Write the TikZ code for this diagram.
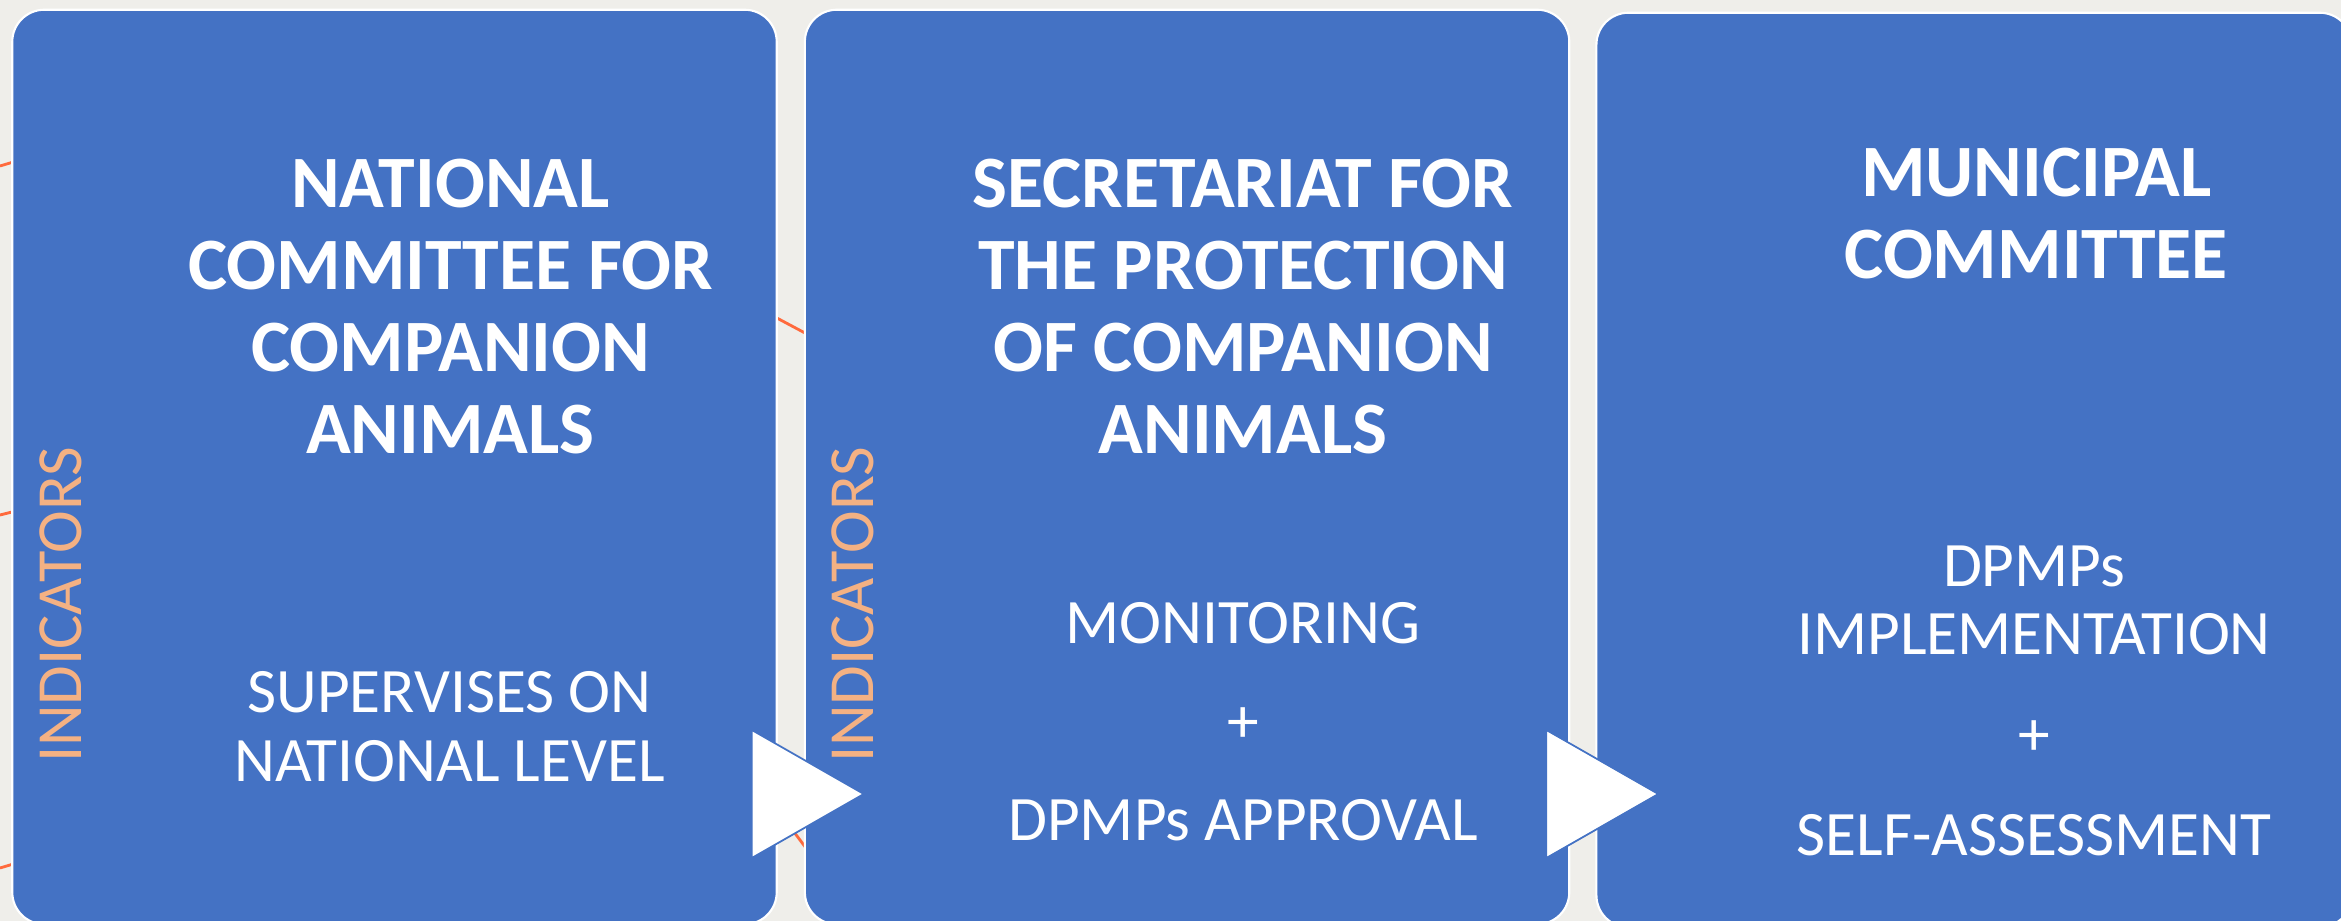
\documentclass[tikz,border=0pt]{standalone}
\usepackage{fontspec}
\setmainfont{Carlito}
\usetikzlibrary{positioning,calc}
\definecolor{boxblue}{HTML}{4472C4}
\definecolor{slidebg}{HTML}{EFEEEA}
\definecolor{indorange}{HTML}{F4B183}
\definecolor{lineorange}{HTML}{FF6A3D}
\begin{document}
\begin{tikzpicture}[x=0.01cm,y=-0.01cm,
	every node/.style={inner sep=0pt,text=white},
	panel/.style={draw=white,line width=0.6pt,fill=boxblue,rounded corners=3.2mm,
		minimum width=7.64cm,minimum height=9.14cm},
	head/.style={font=\fontsize{21}{23.3}\selectfont\bfseries,align=center,anchor=north},
	body/.style={font=\fontsize{18}{19.5}\selectfont,align=center,anchor=north},
	ind/.style={font=\fontsize{18.3}{20}\selectfont,text=indorange,rotate=90},
	tri/.style={draw=boxblue,line width=0.5pt,fill=white},
	deco/.style={lineorange,line width=0.8pt}]

	\fill[slidebg] (0,0) rectangle (2341,921);
	\useasboundingbox (0,0) rectangle (2341,921);

	\draw[deco] (0,166) -- (20,160);
	\draw[deco] (0,515) -- (20,510);
	\draw[deco] (0,868) -- (20,862);
	\draw[deco] (760,309) -- (820,341);
	\draw[deco] (785,820) -- (815,860);

	\node[panel] (natc) at (394.5,467) {};
	\node[panel,right=2.6mm of natc] (secr) {};
	\node[panel,right=2.5mm of secr,yshift=-0.3mm,minimum width=7.55cm] (muni) {};

	\node[head] (natc-h) at ($(natc.north)+(56,150)$) {NATIONAL\\COMMITTEE FOR\\COMPANION\\ANIMALS};
	\node[head] (secr-h) at ($(secr.north)+(56,150)$) {SECRETARIAT FOR\\THE PROTECTION\\OF COMPANION\\ANIMALS};
	\node[head] (muni-h) at ($(muni.north)+(62,136)$) {MUNICIPAL\\COMMITTEE};

	\node[body] (natc-b) at ($(natc.north)+(55,662)$) {SUPERVISES ON\\NATIONAL LEVEL};
	\node[body] (secr-b) at ($(secr.north)+(56,593)$) {MONITORING\\[8.8pt]+\\[8.3pt]DPMPs APPROVAL};
	\node[body] (muni-b) at ($(muni.north)+(60,533)$) {DPMPs\\IMPLEMENTATION\\[9.3pt]+\\[8.8pt]SELF-ASSESSMENT};

	\node[ind] (natc-i) at ($(natc.west)+(50,138)$) {INDICATORS};
	\node[ind] (secr-i) at ($(secr.west)+(49,138)$) {INDICATORS};

	\coordinate (a1) at ($(natc.east)+(-26,327)$);
	\coordinate (a2) at ($(secr.east)+(-24,327)$);
	\draw[tri] (a1) ++(0,-64) -- ++(112,64) -- ++(-112,64) -- cycle;
	\draw[tri] (a2) ++(0,-64) -- ++(112,64) -- ++(-112,64) -- cycle;
\end{tikzpicture}
\end{document}
